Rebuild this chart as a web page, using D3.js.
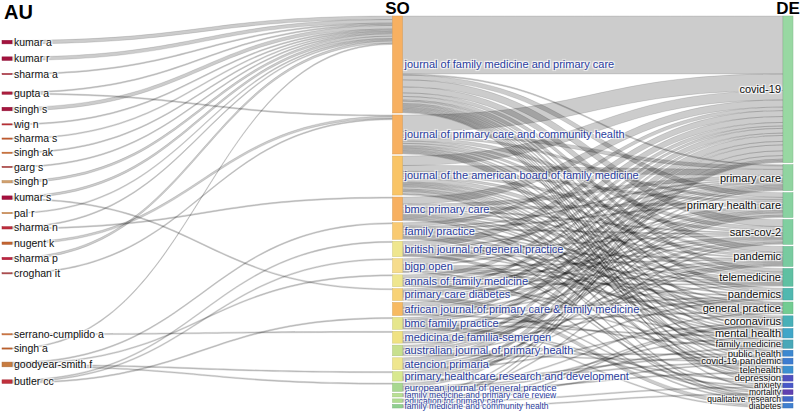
<!DOCTYPE html>
<html><head><meta charset="utf-8">
<script src="https://cdn.jsdelivr.net/npm/d3@7"></script>
<style>
html,body{margin:0;padding:0;background:#fff;}
svg{display:block;}
.lbl{font-family:Arial,"Liberation Sans",sans-serif;text-shadow:1px 1px 1px #fff,1px -1px 1px #fff,-1px 1px 1px #fff,-1px -1px 1px #fff;}
.ttl{font-family:Arial,"Liberation Sans",sans-serif;font-weight:bold;}
</style></head><body><svg id="chart" width="800" height="417"></svg>
<script>
// ---------- data ----------
const fieldTitles = ["AU", "SO", "DE"];

const authors = ["kumar a","kumar r","sharma a","gupta a","singh s","wig n","sharma s","singh ak","garg s","singh p","kumar s","pal r","sharma n","nugent k","sharma p","croghan it","serrano-cumplido a","singh a","goodyear-smith f","butler cc"];
const authorColors = ["#a3123e","#a3123e","#b0303e","#ad1e3e","#a6163e","#bf3238","#c85e30","#cf6c30","#b0403e","#d2a06c","#a6103e","#d28c4c","#be2c3c","#c46430","#be2440","#b0484a","#d2743c","#c4642e","#c87c40","#c0303c"];

const sources = ["journal of family medicine and primary care","journal of primary care and community health","journal of the american board of family medicine","bmc primary care","family practice","british journal of general practice","bjgp open","annals of family medicine","primary care diabetes","african journal of primary care & family medicine","bmc family practice","medicina de familia-semergen","australian journal of primary health","atencion primaria","primary healthcare research and development","european journal of general practice","family medicine and primary care review","education for primary care","family medicine and community health"];
const sourceColors = ["#f7b061","#f7b061","#f9c466","#f7b061","#f9ca72","#efe68e","#f6dc8c","#efe68e","#f8d276","#f7ba62","#e6e68c","#f0e282","#c8e08e","#efe68e","#d8e88e","#a8d890","#b8e092","#b0dc90","#8fd08e"];

const keywords = ["covid-19","primary care","primary health care","sars-cov-2","pandemic","telemedicine","pandemics","general practice","coronavirus","mental health","family medicine","public health","covid-19 pandemic","telehealth","depression","anxiety","mortality","qualitative research","diabetes"];
const keywordColors = ["#98d8a2","#90d4a0","#88d2a0","#80cfa0","#78cba0","#5fc0a2","#50b8b0","#72cc92","#48b0b8","#40a6c8","#48a8b8","#3c88d0","#3c7cd0","#3c90d0","#5050c0","#4858c8","#6040b0","#4068c8","#4080d0"];

// author -> source links: [author index, source index, documents]
const authorSourceLinks = [
  [0,0,3],[1,0,3],[2,0,1],[3,0,1],[3,1,1],[4,0,3],[5,0,1],[6,0,1],
  [7,0,1],[8,0,1],[9,0,2],[10,0,2],[10,8,1],[11,0,1],[12,0,1],[12,3,1],
  [13,1,2],[14,0,2],[15,1,1],[16,11,1],[17,0,1],
  [18,4,1],[18,7,1],[18,14,1],[18,15,1],[19,5,1],[19,6,1],[19,10,1]
];

// source (rows) x keyword (columns) co-occurrences
const sourceKeywordValues = [
  [49,1,4,6,5,3,3,1,2,1,1,1,1,1,1,1,1,0,0],
  [14,3,2,3,2,2,1,0,1,1,0,1,1,1,1,0,0,0,0],
  [8,5,2,2,2,3,1,1,1,1,2,1,0,1,2,0,0,1,0],
  [6,3,2,1,1,2,0,1,1,1,0,0,0,1,0,0,0,1,0],
  [3,1,1,1,0,1,1,2,0,1,1,0,0,1,0,0,0,1,0],
  [5,1,0,1,1,1,0,1,1,0,0,0,0,0,0,1,1,0,0],
  [5,1,0,0,1,1,1,2,0,0,0,0,0,0,0,0,0,1,0],
  [3,2,1,1,0,1,0,0,0,1,1,0,0,0,0,0,0,0,0],
  [2,1,1,1,1,0,0,0,0,0,0,0,0,0,0,0,1,0,3],
  [4,1,2,1,1,0,1,0,0,0,1,0,0,0,0,0,0,0,0],
  [2,1,1,0,0,1,0,1,0,1,0,0,0,0,1,1,0,0,1],
  [5,0,1,2,1,0,1,0,0,0,0,0,0,0,0,0,0,0,0],
  [3,1,2,0,1,0,0,0,0,0,0,1,1,0,0,0,0,0,0],
  [5,0,1,1,1,0,1,0,1,0,0,0,0,0,0,0,0,0,0],
  [4,1,1,0,0,0,0,0,0,0,0,1,1,0,0,0,0,0,0],
  [3,0,0,0,0,0,0,1,0,1,1,0,0,1,0,0,0,0,0],
  [1,0,0,1,0,0,0,0,0,0,0,0,1,0,0,0,0,0,0],
  [1,0,0,0,0,0,0,0,1,0,0,0,0,0,0,1,0,0,0],
  [1,0,0,0,0,0,0,0,1,0,0,0,0,0,0,0,1,0,0]
];

// ---------- layout ----------
const W = 800, H = 417;
const X0 = 2, X1 = 793, Y0 = 16, Y1 = 408, NODE_W = 10, PAD = 2;
const AU_PAD = 13;         // minimum free space between author nodes
const RELAX = 0.3;         // fraction of the way authors move toward their journals

const nodes = [];
authors.forEach((name, i) => nodes.push({name, col: 0, color: authorColors[i]}));
sources.forEach((name, i) => nodes.push({name, col: 1, color: sourceColors[i]}));
keywords.forEach((name, i) => nodes.push({name, col: 2, color: keywordColors[i]}));
nodes.forEach(n => { n.src = []; n.tgt = []; });
const nA = authors.length, nS = sources.length;

const links = [];
authorSourceLinks.forEach(([a, s, v]) => links.push({source: nodes[a], target: nodes[nA + s], value: v}));
sourceKeywordValues.forEach((row, s) => row.forEach((v, k) => {
  if (v > 0) links.push({source: nodes[nA + s], target: nodes[nA + nS + k], value: v});
}));
links.forEach(l => { l.source.src.push(l); l.target.tgt.push(l); });
nodes.forEach(n => n.value = Math.max(d3.sum(n.src, l => l.value), d3.sum(n.tgt, l => l.value)));

const columns = [0, 1, 2].map(c => nodes.filter(n => n.col === c));
const colX = d3.scalePoint().domain([0, 1, 2]).range([X0, X1 - NODE_W]);
const ky = d3.min(columns, c => (Y1 - Y0 - (c.length - 1) * PAD) / d3.sum(c, n => n.value));
const hScale = d3.scaleLinear().domain([0, 1]).range([0, ky]);

columns.forEach(c => {
  let y = Y0;
  c.forEach(n => {
    n.x0 = colX(n.col); n.x1 = n.x0 + NODE_W;
    n.y0 = y; n.y1 = y + hScale(n.value); y = n.y1 + PAD;
  });
  const extra = (Y1 - y + PAD) / (c.length + 1);
  c.forEach((n, i) => { n.y0 += extra * (i + 1); n.y1 += extra * (i + 1); });
});
links.forEach(l => l.width = hScale(l.value));

// relax author nodes toward the weighted centre of their journals
const mid = n => (n.y0 + n.y1) / 2;
columns[0].forEach(n => {
  const c = d3.sum(n.src, l => mid(l.target) * l.value) / d3.sum(n.src, l => l.value);
  const dy = (c - mid(n)) * RELAX;
  n.y0 += dy; n.y1 += dy;
});
(function resolve(col, pad) {
  let y = Y0;
  col.forEach(n => { const h = n.y1 - n.y0; if (n.y0 < y) { n.y0 = y; n.y1 = y + h; } y = n.y1 + pad; });
  if (y - pad > Y1) {
    let yb = Y1;
    for (let i = col.length - 1; i >= 0; i--) {
      const n = col[i], h = n.y1 - n.y0;
      if (n.y1 > yb) { n.y1 = yb; n.y0 = yb - h; }
      yb = n.y0 - pad;
    }
  }
})(columns[0], AU_PAD);

nodes.forEach(n => {
  n.src.sort((a, b) => a.target.y0 - b.target.y0);
  n.tgt.sort((a, b) => a.source.y0 - b.source.y0);
});
nodes.forEach(n => {
  let y = n.y0;
  n.src.forEach(l => { l.sy = y + l.width / 2; y += l.width; });
  y = n.y0;
  n.tgt.forEach(l => { l.ty = y + l.width / 2; y += l.width; });
});

// ---------- draw ----------
const svg = d3.select("#chart");
svg.append("rect").attr("width", W).attr("height", H).attr("fill", "#fff");

function band(l) {
  const x0 = l.source.x1, x1 = l.target.x0, xm = (x0 + x1) / 2, h = l.width / 2;
  const p = d3.path();
  p.moveTo(x0, l.sy - h);
  p.bezierCurveTo(xm, l.sy - h, xm, l.ty - h, x1, l.ty - h);
  p.lineTo(x1, l.ty + h);
  p.bezierCurveTo(xm, l.ty + h, xm, l.sy + h, x0, l.sy + h);
  p.closePath();
  return p.toString();
}

svg.append("g").selectAll("path").data(links).join("path")
  .attr("d", band)
  .attr("fill", "rgba(0,0,0,0.2)")
  .attr("stroke", "rgba(0,0,0,0.22)")
  .attr("stroke-width", 0.5);

svg.append("g").selectAll("rect").data(nodes).join("rect")
  .attr("x", d => d.x0).attr("y", d => d.y0)
  .attr("width", NODE_W).attr("height", d => Math.max(1, d.y1 - d.y0))
  .attr("fill", d => d.color)
  .attr("stroke", d => d3.color(d.color).darker(0.4))
  .attr("stroke-width", 0.5);

function fontSize(d) {
  if (d.col === 0) return 10.5;
  const h = d.y1 - d.y0;
  return h >= 9 ? 11 : (h >= 5.5 ? 9.5 : 8.5);
}
svg.append("g").selectAll("text").data(nodes).join("text")
  .attr("class", "lbl")
  .attr("x", d => d.col === 2 ? d.x0 - 2 : d.x1 + 2)
  .attr("y", d => (d.y0 + d.y1) / 2)
  .attr("dy", "0.35em")
  .attr("text-anchor", d => d.col === 2 ? "end" : "start")
  .attr("font-size", d => fontSize(d))
  .attr("fill", d => d.col === 1 ? "#2b3d9e" : "#111")
  .text(d => d.name);

svg.append("g").selectAll("text").data(fieldTitles).join("text")
  .attr("class", "ttl")
  .attr("x", (d, i) => i === 0 ? X0 + 2 : colX(i) + NODE_W / 2)
  .attr("y", (d, i) => i === 0 ? 19 : 14)
  .attr("text-anchor", (d, i) => i === 0 ? "start" : "middle")
  .attr("font-size", (d, i) => i === 0 ? 20 : 17)
  .attr("fill", "#000")
  .text(d => d);
</script></body></html>
